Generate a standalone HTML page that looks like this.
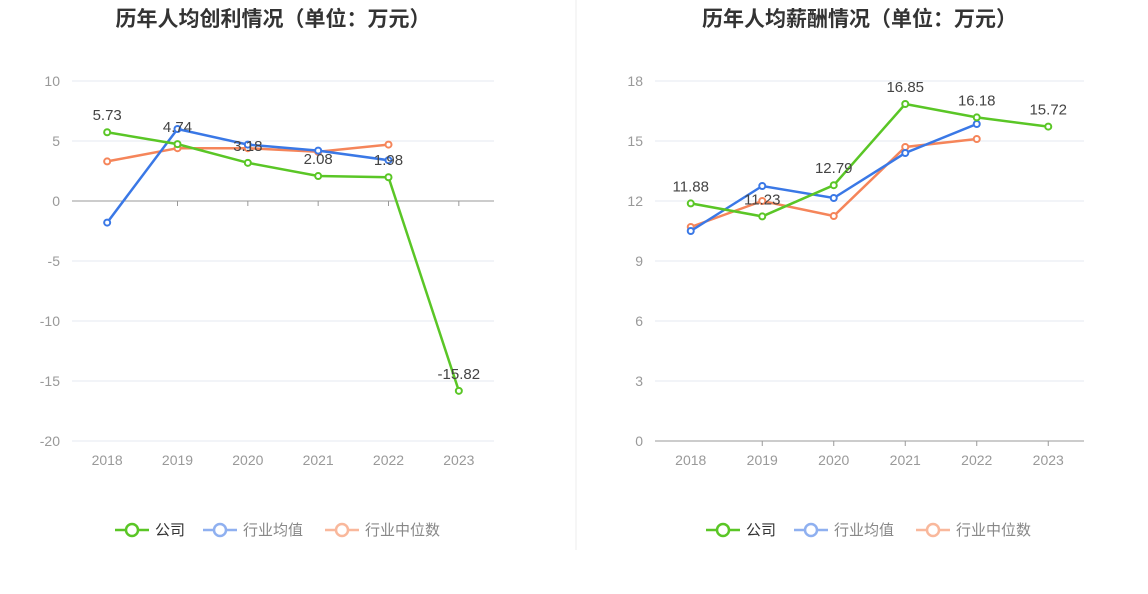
<!DOCTYPE html>
<html><head><meta charset="utf-8"><style>
body{margin:0;background:#fff;width:1148px;height:589px;overflow:hidden;font-family:"Liberation Sans","Noto Sans CJK SC",sans-serif}
</style></head><body>
<svg id="svg" width="1148" height="589" xmlns="http://www.w3.org/2000/svg">
<line x1="576" y1="0" x2="576" y2="550" stroke="#eee"/>
</svg>
<script>
const years=["2018","2019","2020","2021","2022","2023"];
const leftCompany=[5.73,4.74,3.18,2.08,1.98,-15.82];
const leftAvg=[-1.8,6.0,4.7,4.2,3.4];
const leftMedian=[3.3,4.4,4.4,4.1,4.7];
const leftTicks=[10,5,0,-5,-10,-15,-20];
const rightCompany=[11.88,11.23,12.79,16.85,16.18,15.72];
const rightAvg=[10.5,12.75,12.15,14.4,15.85];
const rightMedian=[10.7,12.0,11.25,14.7,15.1];
const rightTicks=[18,15,12,9,6,3,0];
const NS="http://www.w3.org/2000/svg";
const svg=document.getElementById('svg');
function mk(tag,attrs,parent){const e=document.createElementNS(NS,tag);for(const k in attrs)e.setAttribute(k,attrs[k]);(parent||svg).appendChild(e);return e;}
function chart(o){
  const g=mk('g',{});
  
  
  const min=o.ticks[o.ticks.length-1],max=o.ticks[0];
  const y=v=>81+(max-v)/(max-min)*360;
  const step=(o.x1-o.x0)/years.length;
  const x=i=>o.x0+step*(i+0.5);
  const t=mk('text',{x:(o.x0+o.x1)/2-10,y:26,'text-anchor':'middle','font-size':'21','font-weight':'bold',fill:'#333'},g);
  t.textContent=o.title;
  
  
  o.ticks.forEach(v=>{
    const l=mk('line',{x1:o.x0,x2:o.x1,y1:y(v),y2:y(v),stroke:v===0?'#999':'#e6e9f2'},g);
    
    
    const tl=mk('text',{x:o.x0-12,y:y(v)+5,'text-anchor':'end','font-size':'14',fill:'#999'},g);
    tl.textContent=v;
    
    
  });
  years.forEach((yr,i)=>{
    if(i>0){
      const tk=mk('line',{x1:x(i),x2:x(i),y1:y(0),y2:y(0)+5,stroke:'#999'},g);
      
      
    }
    const tl=mk('text',{x:x(i),y:465,'text-anchor':'middle','font-size':'14',fill:'#999'},g);
    tl.textContent=yr;
    
    
  });
  const series=[[o.median,'#f5855a','median'],[o.avg,'#3a78e6','average'],[o.company,'#5ac626','company']];
  series.forEach(([d,c,n])=>{
    const p=mk('polyline',{points:d.map((v,i)=>x(i)+','+y(v)).join(' '),fill:'none',stroke:c,'stroke-width':'2.5'},g);
    
    
    d.forEach((v,i)=>{
      const ci=mk('circle',{cx:x(i),cy:y(v),r:3,fill:'#fff',stroke:c,'stroke-width':'2'},g);
      
      
    });
  });
  o.company.forEach((v,i)=>{
    const tl=mk('text',{x:x(i),y:y(v)-12,'text-anchor':'middle','font-size':'15',fill:'#444'},g);
    tl.textContent=v.toFixed(2);
    
    
  });
  const lx=o.legendX;
  [['公司','#5ac626','#333'],['行业均值','#8fb0f0','#888'],['行业中位数','#f9b89c','#888']].forEach(([txt,c,tc],k)=>{
    const off=[0,88,210][k];
    const lg=mk('g',{},g);
    
    
    mk('line',{x1:lx+off,x2:lx+off+34,y1:530,y2:530,stroke:c,'stroke-width':'2.5'},lg);
    mk('circle',{cx:lx+off+17,cy:530,r:6,fill:'#fff',stroke:c,'stroke-width':'2.5'},lg);
    const tt=mk('text',{x:lx+off+40,y:535,'font-size':'15',fill:tc},lg);
    tt.textContent=txt;
  });
}
chart({name:'profit-chart',title:'历年人均创利情况（单位：万元）',x0:72,x1:494,ticks:leftTicks,company:leftCompany,avg:leftAvg,median:leftMedian,legendX:115});
chart({name:'salary-chart',title:'历年人均薪酬情况（单位：万元）',x0:655,x1:1084,ticks:rightTicks,company:rightCompany,avg:rightAvg,median:rightMedian,legendX:706});
</script>
</body></html>
